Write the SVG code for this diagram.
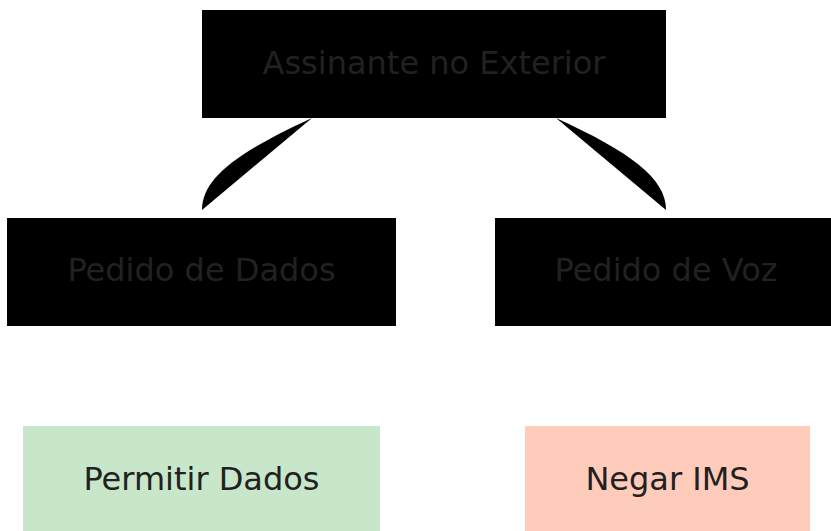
<svg xmlns="http://www.w3.org/2000/svg" width="831" height="531" viewBox="0 0 831 531">
<style>
.lbl{font-family:"DejaVu Sans",sans-serif;font-size:32px;fill:#212121;text-anchor:middle}
.dark{fill:#000000}
.edge{fill:#000000;stroke:none}
</style>
<rect width="831" height="531" fill="#ffffff"/>
<g id="connectors">
<path class="edge" d="M312,118 C238,152 202,178 202,210 Z"/>
<path class="edge" d="M556,118 C630,152 666,178 666,210 Z"/>
</g>
<g id="node-assinante">
<rect class="dark" x="202" y="10" width="464" height="108"/>
<text class="lbl" x="434" y="74">Assinante no Exterior</text>
</g>
<g id="node-dados">
<rect class="dark" x="7" y="218" width="389" height="108"/>
<text class="lbl" x="201.5" y="281">Pedido de Dados</text>
</g>
<g id="node-voz">
<rect class="dark" x="495" y="218" width="342" height="108"/>
<text class="lbl" x="666" y="281">Pedido de Voz</text>
</g>
<g id="node-permitir">
<rect x="23" y="426" width="357" height="108" fill="#c8e6c9"/>
<text class="lbl" x="201.5" y="490">Permitir Dados</text>
</g>
<g id="node-negar">
<rect x="525" y="426" width="285" height="108" fill="#ffccbc"/>
<text class="lbl" x="667.5" y="490">Negar IMS</text>
</g>
</svg>
